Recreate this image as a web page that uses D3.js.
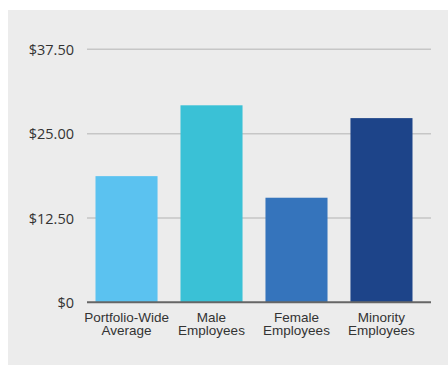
<!DOCTYPE html>
<html><head><meta charset="utf-8">
<script src="https://cdn.jsdelivr.net/npm/d3@7"></script>
<style>html,body{margin:0;padding:0;background:#fff;}svg{display:block;}</style>
</head><body>
<script>
const categories = [["Portfolio-Wide","Average"],["Male","Employees"],["Female","Employees"],["Minority","Employees"]];
const values = [18.7, 29.2, 15.5, 27.3];
const colors = ["#5BC2F0","#3AC1D6","#3574BC","#1D4489"];
const tickValues = [0, 12.5, 25, 37.5];
const tickLabels = ["$0","$12.50","$25.00","$37.50"];

const W = 448, H = 365;
const svg = d3.select("body").append("svg").attr("width", W).attr("height", H);
svg.append("rect").attr("x", 8).attr("y", 10).attr("width", W - 8).attr("height", H - 10).attr("fill", "#ECECEC");

const x0 = 87, x1 = 431;
const y = d3.scaleLinear().domain([0, 37.5]).range([302.3, 49.3]);
const x = d3.scaleBand().domain(d3.range(categories.length)).range([87, 421]).paddingInner(0.27).paddingOuter(0.1);

// gridlines
svg.append("g").selectAll("line").data(tickValues.filter(v => v > 0)).join("line")
  .attr("x1", x0).attr("x2", x1)
  .attr("y1", d => y(d)).attr("y2", d => y(d))
  .attr("stroke", "#C6C6C6").attr("stroke-width", 1.5);

// y axis labels
const yAxis = d3.axisLeft(y).tickValues(tickValues).tickFormat((d, i) => tickLabels[i]).tickSize(0).tickPadding(0);
const gy = svg.append("g").attr("transform", `translate(74,0)`).call(yAxis);
gy.select(".domain").remove();
gy.selectAll("text").attr("font-family", "'Open Sans', sans-serif").attr("font-size", 14.5).attr("fill", "#333").attr("dy", "0.35em");

// bars
svg.append("g").selectAll("rect").data(values).join("rect")
  .attr("x", (d, i) => x(i)).attr("width", x.bandwidth())
  .attr("y", d => y(d)).attr("height", d => y(0) - y(d))
  .attr("fill", (d, i) => colors[i]);

// baseline
svg.append("line").attr("x1", x0).attr("x2", x1).attr("y1", y(0)).attr("y2", y(0))
  .attr("stroke", "#666").attr("stroke-width", 2);

// x labels
const xl = svg.append("g").selectAll("text").data(categories).join("text")
  .attr("x", (d, i) => x(i) + x.bandwidth() / 2)
  .attr("y", 322)
  .attr("text-anchor", "middle")
  .attr("font-family", "'Liberation Sans Narrow', 'Arial Narrow', sans-serif")
  .attr("font-size", 13.5)
  .attr("fill", "#333");
xl.selectAll("tspan").data(d => d).join("tspan")
  .attr("x", function() { return this.parentNode.getAttribute("x"); })
  .attr("dy", (d, i) => i === 0 ? 0 : 12.8)
  .text(d => d);
</script>
</body></html>
